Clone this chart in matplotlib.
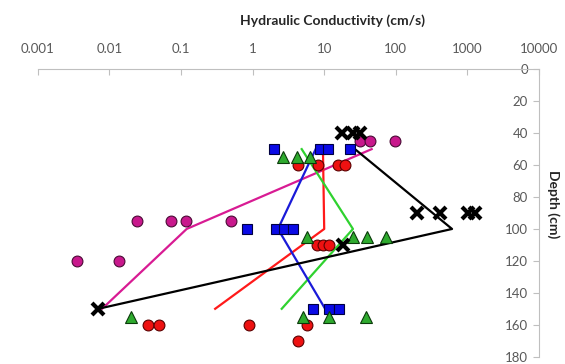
import matplotlib
matplotlib.use("Agg")
import matplotlib.pyplot as plt
from matplotlib.ticker import FixedLocator, NullLocator

plt.rcParams['font.family'] = ['Lato', 'DejaVu Sans']

# measured hydraulic conductivity (cm/s) by depth (cm), one list per group
black_k = [17.6, 25.5, 31.6, 196, 414, 1020, 1280, 18.3, 0.0070]
black_depth = [40, 40, 40, 90, 90, 90, 90, 110, 150]

magenta_k = [31.6, 43.6, 97.5, 0.024, 0.072, 0.117, 0.50, 0.0035, 0.0136]
magenta_depth = [45, 45, 45, 95, 95, 95, 95, 120, 120]

red_k = [4.3, 8.2, 15.6, 19.5, 7.85, 9.7, 11.8, 0.035, 0.049, 0.90, 5.7, 4.3]
red_depth = [60, 60, 60, 60, 110, 110, 110, 160, 160, 160, 160, 170]

blue_k = [1.99, 8.7, 11.2, 22.9, 0.83, 2.12, 2.75, 3.7, 7.0, 11.8, 16.3]
blue_depth = [50, 50, 50, 50, 100, 100, 100, 100, 150, 150, 150]

green_k = [2.7, 4.2, 6.3, 5.7, 25.5, 39.3, 73, 0.0198, 5.1, 11.8, 38]
green_depth = [55, 55, 55, 105, 105, 105, 105, 155, 155, 155, 155]

# mean profiles
line_depth = [50, 100, 150]
black_line = [26.9, 610, 0.0070]
magenta_line = [46, 0.12, 0.0079]
red_line = [9.6, 10, 0.30]
green_line = [4.85, 25.2, 2.55]
blue_line = [7.6, 2.26, 10.3]

x_ticks = [0.001, 0.01, 0.1, 1, 10, 100, 1000, 10000]
x_tick_labels = ['0.001', '0.01', '0.1', '1', '10', '100', '1000', '10000']
y_ticks = [0, 20, 40, 60, 80, 100, 120, 140, 160, 180]

fig = plt.figure(figsize=(5.65, 3.64), dpi=100)
ax = fig.add_axes([0.0669, 0.0201, 0.954 - 0.0669, 0.8096 - 0.0201])

# lines
ax.plot(magenta_line, line_depth, color='#D81B93', lw=1.6, zorder=2)
ax.plot(red_line, line_depth, color='#FF1A1A', lw=1.6, zorder=2)
ax.plot(green_line, line_depth, color='#2FD22F', lw=1.6, zorder=2)
ax.plot(blue_line, line_depth, color='#1A1AD8', lw=1.6, zorder=2)
ax.plot(black_line, line_depth, color='black', lw=1.6, zorder=2)

# points
ax.plot(magenta_k, magenta_depth, 'o', ms=7.8, mfc='#C8188C', mec='#4a0a35', mew=0.8, zorder=3)
ax.plot(red_k, red_depth, 'o', ms=7.8, mfc='#EE1111', mec='#5a0000', mew=0.8, zorder=3)
ax.plot(blue_k, blue_depth, 's', ms=7.8, mfc='#0A0AE6', mec='#000040', mew=0.8, zorder=3)
ax.plot(green_k, green_depth, '^', ms=8, mfc='#2EAA2E', mec='#0a3a0a', mew=0.8, zorder=3)
ax.plot(black_k, black_depth, 'x', ms=8, color='black', mew=3, zorder=4)

ax.set_xscale('log')
ax.set_xlim(0.001, 10000)
ax.set_ylim(180, 0)

for side in ['left', 'bottom']:
    ax.spines[side].set_visible(False)
for side in ['top', 'right']:
    ax.spines[side].set_color('#BFBFBF')
    ax.spines[side].set_linewidth(0.8)

ax.xaxis.tick_top()
ax.xaxis.set_major_locator(FixedLocator(x_ticks))
ax.xaxis.set_minor_locator(NullLocator())
ax.set_xticklabels(x_tick_labels)
ax.tick_params(axis='x', direction='in', length=4, width=0.8, color='#BFBFBF',
               labelsize=9.5, labelcolor='#595959', pad=10)

ax.yaxis.tick_right()
ax.set_yticks(y_ticks)
ax.tick_params(axis='y', direction='in', length=4, width=0.8, color='#BFBFBF',
               labelsize=9.5, labelcolor='#595959', pad=-8)
for lbl in ax.get_yticklabels():
    lbl.set_horizontalalignment('right')

fig.text(0.588, 0.942, 'Hydraulic Conductivity (cm/s)', ha='center', va='center',
         fontsize=10, fontweight='bold', color='#262626')
fig.text(0.979, 0.44, 'Depth (cm)', ha='center', va='center', rotation=-90,
         fontsize=10, fontweight='bold', color='#262626')

fig.savefig('out.png', dpi=100)
